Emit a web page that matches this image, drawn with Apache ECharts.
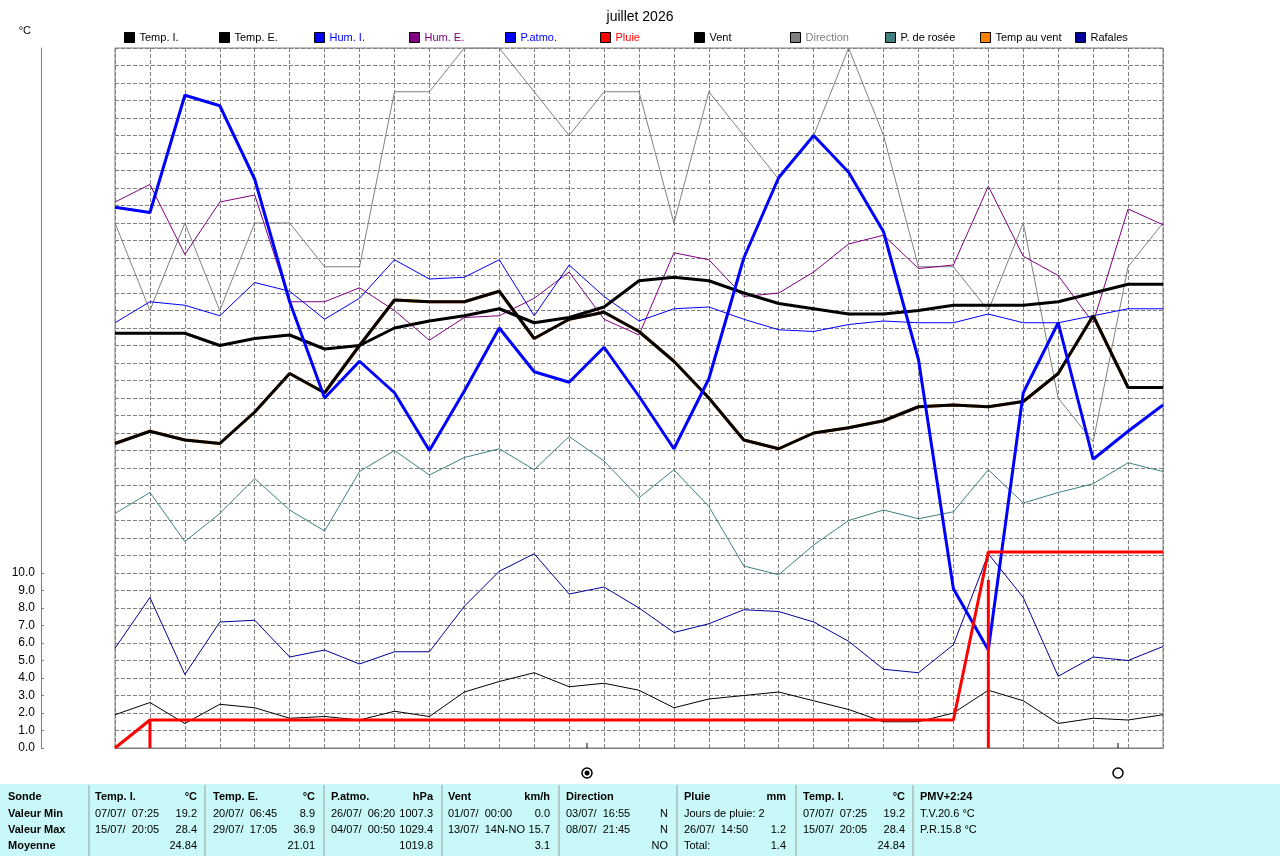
<!DOCTYPE html>
<html>
<head>
<meta charset="utf-8">
<title>juillet 2026</title>
<script src="https://cdn.jsdelivr.net/npm/echarts@6.0.0/dist/echarts.min.js"></script>
<style>
  html, body { margin: 0; padding: 0; background: #fff; }
  #chart { width: 1280px; height: 856px; }
</style>
</head>
<body>
<div id="chart"></div>
<script>
// jours du mois
const days = ['1', '2', '3', '4', '5', '6', '7', '8', '9', '10', '11', '12', '13', '14', '15', '16',
  '17', '18', '19', '20', '21', '22', '23', '24', '25', '26', '27', '28', '29', '30', '31'];

const tempI = [23.7, 23.7, 23.7, 23.0, 23.4, 23.6, 22.8, 23.0, 24.0, 24.4, 24.7, 25.1, 24.3, 24.6, 25.2, 26.7,
  26.9, 26.7, 26.0, 25.4, 25.1, 24.8, 24.8, 25.0, 25.3, 25.3, 25.3, 25.5, 26.0, 26.5, 26.5];
const tempE = [17.4, 18.1, 17.6, 17.4, 19.2, 21.4, 20.3, 23.0, 25.6, 25.5, 25.5, 26.1, 23.4, 24.5, 24.9, 23.8,
  22.1, 20.0, 17.6, 17.1, 18.0, 18.3, 18.7, 19.5, 19.6, 19.5, 19.8, 21.4, 24.7, 20.6, 20.6];
const tempVent = [17.4, 18.1, 17.6, 17.4, 19.2, 21.4, 20.3, 23.0, 25.6, 25.5, 25.5, 26.1, 23.4, 24.5, 24.9, 23.8,
  22.1, 20.0, 17.6, 17.1, 18.0, 18.3, 18.7, 19.5, 19.6, 19.5, 19.8, 21.4, 24.7, 20.6, 20.6];
const humI = [24.3, 25.5, 25.3, 24.7, 26.6, 26.1, 24.5, 25.7, 27.9, 26.8, 26.9, 27.9, 24.7, 27.6, 25.8, 24.4,
  25.1, 25.2, 24.5, 23.9, 23.8, 24.2, 24.4, 24.3, 24.3, 24.8, 24.3, 24.3, 24.7, 25.1, 25.1];
const humE = [31.2, 32.2, 28.2, 31.2, 31.6, 25.5, 25.5, 26.3, 25.0, 23.3, 24.6, 24.7, 25.7, 27.2, 24.5, 23.6,
  28.3, 27.9, 25.8, 26.0, 27.2, 28.8, 29.3, 27.4, 27.6, 32.1, 28.1, 27.0, 24.3, 30.8, 29.9];
const pAtmo = [30.9, 30.6, 37.3, 36.7, 32.5, 25.5, 20.0, 22.1, 20.3, 17.0, 20.4, 24.0, 21.5, 20.9, 22.9, 20.1,
  17.1, 21.1, 28.0, 32.6, 35.0, 32.9, 29.5, 22.2, 9.1, 5.6, 20.3, 24.3, 16.5, 18.1, 19.6];
const direction = [30, 25, 30, 25, 30, 30, 27.5, 27.5, 37.5, 37.5, 40, 40, 37.5, 35, 37.5, 37.5,
  30, 37.5, 35, 32.5, 35, 40, 35, 27.5, 27.5, 25, 30, 20, 17.5, 27.5, 30];
const rosee = [13.4, 14.6, 11.8, 13.4, 15.4, 13.6, 12.4, 15.8, 17.0, 15.6, 16.6, 17.1, 15.9, 17.8, 16.4, 14.3,
  15.9, 13.8, 10.4, 9.9, 11.6, 13.0, 13.6, 13.1, 13.5, 15.9, 14.0, 14.6, 15.1, 16.3, 15.8];
const rafales = [5.7, 8.6, 4.2, 7.2, 7.3, 5.2, 5.6, 4.8, 5.5, 5.5, 8.1, 10.1, 11.1, 8.8, 9.2, 8.0,
  6.6, 7.1, 7.9, 7.8, 7.2, 6.1, 4.5, 4.3, 5.9, 11.1, 8.6, 4.1, 5.2, 5.0, 5.8];
const vent = [1.9, 2.6, 1.4, 2.5, 2.3, 1.7, 1.8, 1.6, 2.1, 1.8, 3.2, 3.8, 4.3, 3.5, 3.7, 3.3,
  2.3, 2.8, 3.0, 3.2, 2.7, 2.2, 1.5, 1.5, 2.0, 3.3, 2.7, 1.4, 1.7, 1.6, 1.9];

// pluie en mm : cumul et journaliere
const pluieCumul = [0, 0.2, 0.2, 0.2, 0.2, 0.2, 0.2, 0.2, 0.2, 0.2, 0.2, 0.2, 0.2, 0.2, 0.2, 0.2,
  0.2, 0.2, 0.2, 0.2, 0.2, 0.2, 0.2, 0.2, 0.2, 1.4, 1.4, 1.4, 1.4, 1.4, 1.4];
const pluieJour = ['-', 0.2, '-', '-', '-', '-', '-', '-', '-', '-', '-', '-', '-', '-', '-', '-',
  '-', '-', '-', '-', '-', '-', '-', '-', '-', 1.2, '-', '-', '-', '-', '-'];

// graduations affichees sur l'axe
const yTickLabels = [0, 1, 2, 3, 4, 5, 6, 7, 8, 9, 10];

// tableau recapitulatif
const summaryHead = ['Sonde', 'Valeur Min', 'Valeur Max', 'Moyenne'];
const summaryCols = [
  { title: 'Temp. I.', unit: '°C', rows: [['07/07/  07:25', '19.2'], ['15/07/  20:05', '28.4'], ['', '24.84']] },
  { title: 'Temp. E.', unit: '°C', rows: [['20/07/  06:45', '8.9'], ['29/07/  17:05', '36.9'], ['', '21.01']] },
  { title: 'P.atmo.', unit: 'hPa', rows: [['26/07/  06:20', '1007.3'], ['04/07/  00:50', '1029.4'], ['', '1019.8']] },
  { title: 'Vent', unit: 'km/h', rows: [['01/07/  00:00', '0.0'], ['13/07/  14N-NO', '15.7'], ['', '3.1']] },
  { title: 'Direction', unit: '', rows: [['03/07/  16:55', 'N'], ['08/07/  21:45', 'N'], ['', 'NO']] },
  { title: 'Pluie', unit: 'mm', rows: [['Jours de pluie: 2', ''], ['26/07/  14:50', '1.2'], ['Total:', '1.4']] },
  { title: 'Temp. I.', unit: '°C', rows: [['07/07/  07:25', '19.2'], ['15/07/  20:05', '28.4'], ['', '24.84']] },
  { title: 'PMV+2:24', unit: '', rows: [['T.V.20.6 °C', ''], ['P.R.15.8 °C', ''], ['', '']] }
];

const FONT = '"Liberation Sans", Arial, sans-serif';
const GRID_DASH = { color: '#808080', width: 1, type: [4, 2] };

// position des entrees de legende
const legendLayout = [
  ['Temp. I.', 124, '#000000'],
  ['Temp. E.', 219, '#000000'],
  ['Hum. I.', 314, '#0000ff'],
  ['Hum. E.', 409, '#800080'],
  ['P.atmo.', 505, '#0000ff'],
  ['Pluie', 600, '#ff0000'],
  ['Vent', 694, '#000000'],
  ['Direction', 790, '#808080'],
  ['P. de rosée', 885, '#000000'],
  ['Temp au vent', 980, '#000000'],
  ['Rafales', 1075, '#000000']
];

function line(name, data, color, width, z) {
  return {
    name: name,
    type: 'line',
    data: data,
    showSymbol: false,
    symbol: 'none',
    z: z,
    itemStyle: { color: color },
    lineStyle: { color: color, width: width },
    emphasis: { disabled: true }
  };
}

function summaryGraphic() {
  const els = [];
  const rowY = [797, 814, 830, 846];
  const colX = [95, 213, 331, 448, 566, 684, 803, 920];
  const sepX = [89, 205, 324, 442, 559, 677, 796, 913];
  els.push({ type: 'rect', shape: { x: 0, y: 784, width: 1280, height: 72 }, style: { fill: '#c8f8f8' }, silent: true });
  sepX.forEach(function (x) {
    els.push({ type: 'line', shape: { x1: x, y1: 785, x2: x, y2: 856 }, style: { stroke: '#9a9a9a', lineWidth: 1 }, silent: true });
  });
  function txt(s, x, y, bold, align) {
    els.push({
      type: 'text', silent: true,
      style: { text: s, x: x, y: y, fill: '#000', font: (bold ? 'bold ' : '') + '11px ' + FONT,
        textAlign: align || 'left', textVerticalAlign: 'middle' }
    });
  }
  summaryHead.forEach(function (s, i) { txt(s, 8, rowY[i], true); });
  summaryCols.forEach(function (c, ci) {
    const x0 = colX[ci], x1 = colX[ci] + 102;
    txt(c.title, x0, rowY[0], true);
    if (c.unit) txt(c.unit, x1, rowY[0], true, 'right');
    c.rows.forEach(function (r, ri) {
      if (r[0]) txt(r[0], x0, rowY[ri + 1], false);
      if (r[1]) txt(r[1], x1, rowY[ri + 1], false, 'right');
    });
  });
  return els;
}

const chart = echarts.init(document.getElementById('chart'), null, { renderer: 'canvas' });

const option = {
  animation: false,
  backgroundColor: '#ffffff',
  textStyle: { fontFamily: FONT },
  title: {
    text: 'juillet 2026',
    left: 'center',
    top: 5,
    textStyle: { fontSize: 14, fontWeight: 'normal', color: '#000', fontFamily: FONT }
  },
  legend: legendLayout.map(function (l) {
    return {
      data: [l[0]],
      left: l[1],
      top: 32,
      padding: 0,
      icon: 'rect',
      itemWidth: 10,
      itemHeight: 10,
      selectedMode: false,
      itemStyle: { borderColor: '#000', borderWidth: 1 },
      textStyle: { color: l[2], fontSize: 11, fontFamily: FONT }
    };
  }),
  grid: {
    left: 115, right: 117, top: 48, bottom: 108,
    show: true, borderColor: '#808080', borderWidth: 1
  },
  xAxis: {
    type: 'category',
    data: days,
    boundaryGap: false,
    axisLine: { lineStyle: { color: '#808080' } },
    axisTick: { show: false },
    axisLabel: { show: false },
    splitLine: { show: true, interval: 0, lineStyle: GRID_DASH }
  },
  yAxis: [
    {
      type: 'value', min: 0, max: 40, interval: 1,
      axisLine: { show: false }, axisTick: { show: false }, axisLabel: { show: false },
      splitLine: { show: true, lineStyle: GRID_DASH }
    },
    {
      type: 'value', min: 0, max: 40, interval: 1,
      position: 'left', offset: 74,
      name: '°C', nameLocation: 'end', nameGap: 12,
      nameTextStyle: { color: '#000', fontSize: 11, align: 'right', padding: [0, 10, 0, 0] },
      axisLine: { show: true, lineStyle: { color: '#808080' } },
      axisTick: { show: true, inside: true, length: 3, customValues: yTickLabels, lineStyle: { color: '#808080' } },
      axisLabel: {
        customValues: yTickLabels, color: '#000', fontSize: 12, margin: 6,
        formatter: function (v) { return v <= 10 ? v.toFixed(1) : ''; }
      },
      splitLine: { show: false }
    },
    {
      type: 'value', min: 0, max: 5, show: false
    }
  ],
  series: [
    line('Direction', direction, '#808080', 1, 2),
    line('Hum. E.', humE, '#800080', 1, 2),
    line('Hum. I.', humI, '#0000ff', 1, 2),
    line('P. de rosée', rosee, '#408080', 1, 2),
    line('Rafales', rafales, '#000099', 1, 2),
    line('Vent', vent, '#000000', 1, 2),
    line('Temp au vent', tempVent, '#ff8000', 3, 3),
    line('Temp. E.', tempE, '#000000', 3, 3),
    line('Temp. I.', tempI, '#000000', 3, 3),
    line('P.atmo.', pAtmo, '#0000ff', 3, 3),
    {
      name: 'Pluie', type: 'bar', yAxisIndex: 2, data: pluieJour, barWidth: 3, z: 4,
      itemStyle: { color: '#ff0000' }, emphasis: { disabled: true }
    },
    Object.assign(line('Pluie', pluieCumul, '#ff0000', 3, 4), { yAxisIndex: 2 })
  ],
  graphic: summaryGraphic().concat([
    // phases de la lune
    { type: 'circle', shape: { cx: 587, cy: 773, r: 5 }, style: { fill: '#fff', stroke: '#000', lineWidth: 1.5 }, silent: true },
    { type: 'circle', shape: { cx: 587, cy: 773, r: 2.5 }, style: { fill: '#000' }, silent: true },
    { type: 'circle', shape: { cx: 1118, cy: 773, r: 5 }, style: { fill: '#fff', stroke: '#000', lineWidth: 1.5 }, silent: true },
    { type: 'line', shape: { x1: 587, y1: 743, x2: 587, y2: 748 }, style: { stroke: '#000', lineWidth: 1 }, silent: true },
    { type: 'line', shape: { x1: 1118, y1: 743, x2: 1118, y2: 748 }, style: { stroke: '#000', lineWidth: 1 }, silent: true }
  ])
};

chart.setOption(option);
</script>
</body>
</html>
